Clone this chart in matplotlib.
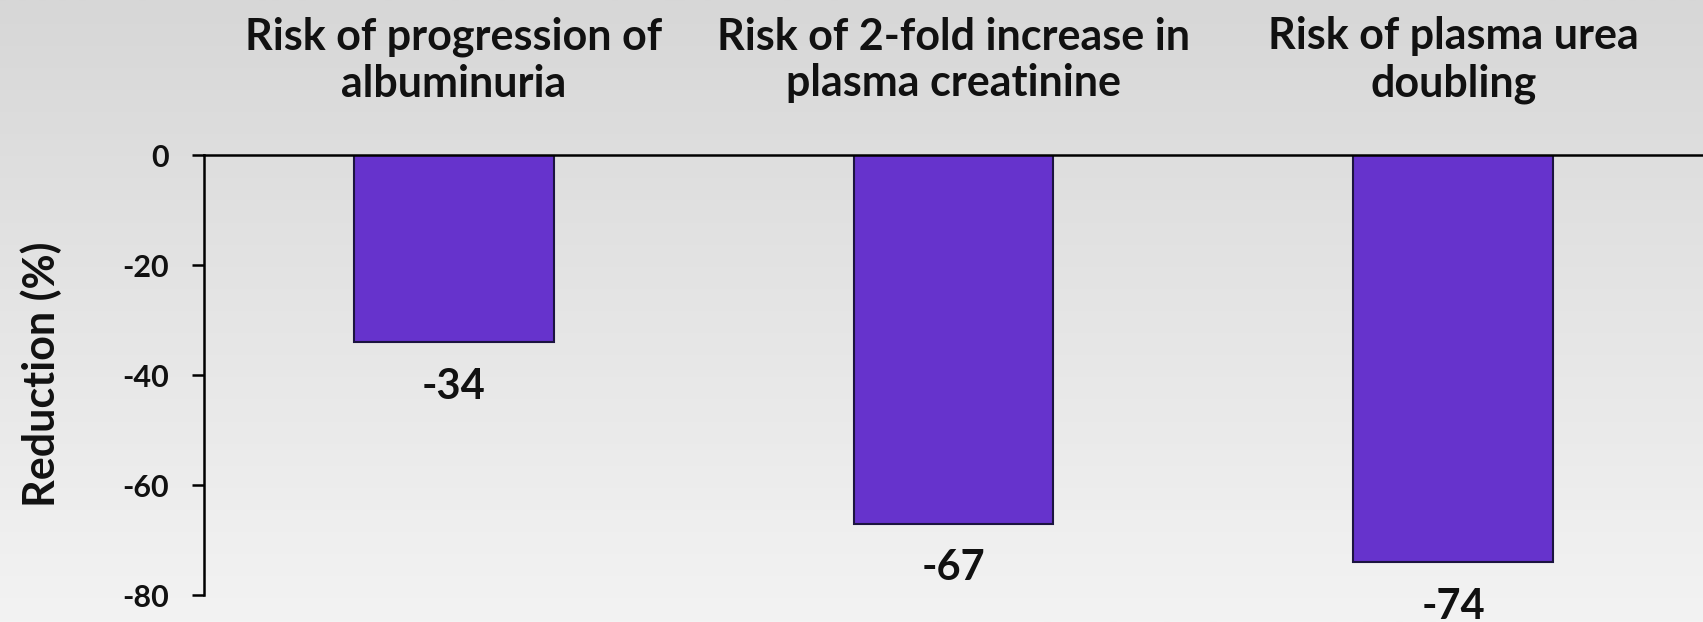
import numpy as np
import matplotlib
matplotlib.use("Agg")
import matplotlib.pyplot as plt
from matplotlib.colors import LinearSegmentedColormap
from matplotlib.transforms import blended_transform_factory

plt.rcParams['font.family'] = ['Lato', 'DejaVu Sans']
plt.rcParams['font.weight'] = 'bold'

categorias = [
    "Risk of progression of\nalbuminuria",
    "Risk of 2-fold increase in\nplasma creatinine",
    "Risk of plasma urea\ndoubling",
]
reducao = [-34, -67, -74]
yticks = [0, -20, -40, -60, -80]

fig = plt.figure(figsize=(17.03, 6.22), dpi=100)

# fundo em degradê (cinza em cima, quase branco embaixo)
bg = fig.add_axes([0, 0, 1, 1], zorder=-10)
grad = np.linspace(0, 1, 256).reshape(-1, 1)
cmap_bg = LinearSegmentedColormap.from_list("bg", ["#d7d7d7", "#f3f3f3"])
bg.imshow(grad, aspect='auto', cmap=cmap_bg, extent=[0, 1, 0, 1], origin='upper')
bg.axis('off')

ax = fig.add_axes([0.1198, 0.0434, 0.8802, 0.7074])
ax.set_facecolor('none')

x = np.arange(len(categorias))
bars = ax.bar(x, reducao, width=0.40, color='#6633cc', edgecolor='#1c1440', linewidth=1.5, zorder=2)

for xi, v in zip(x, reducao):
    ax.annotate(str(v), (xi, v), xytext=(0, -41), textcoords='offset points',
                ha='center', va='baseline', fontsize=30, fontweight='bold',
                color='#111111', annotation_clip=False)

trans = blended_transform_factory(ax.transData, fig.transFigure)
for xi, cat in zip(x, categorias):
    ax.text(xi, 0.9035, cat, transform=trans, ha='center', va='center',
            fontsize=31, fontweight='bold', color='#111111', linespacing=1.2)

ax.set_xlim(-0.5, 2.5)
ax.set_ylim(-80, 0)
ax.set_yticks(yticks)
ax.set_yticklabels([str(t) for t in yticks])
ax.set_xticks([])

ax.spines['right'].set_visible(False)
ax.spines['bottom'].set_visible(False)
ax.spines['left'].set_linewidth(1.8)
ax.spines['top'].set_linewidth(1.8)
ax.tick_params(axis='y', direction='out', length=9, width=1.8, pad=16,
               labelsize=22, labelcolor='#111111')

fig.text(41 / 1703, 1 - 374 / 622, "Reduction (%)", rotation=90, ha='center', va='center',
         fontsize=31, fontweight='bold', color='#111111')

fig.savefig("out.png", dpi=100)
